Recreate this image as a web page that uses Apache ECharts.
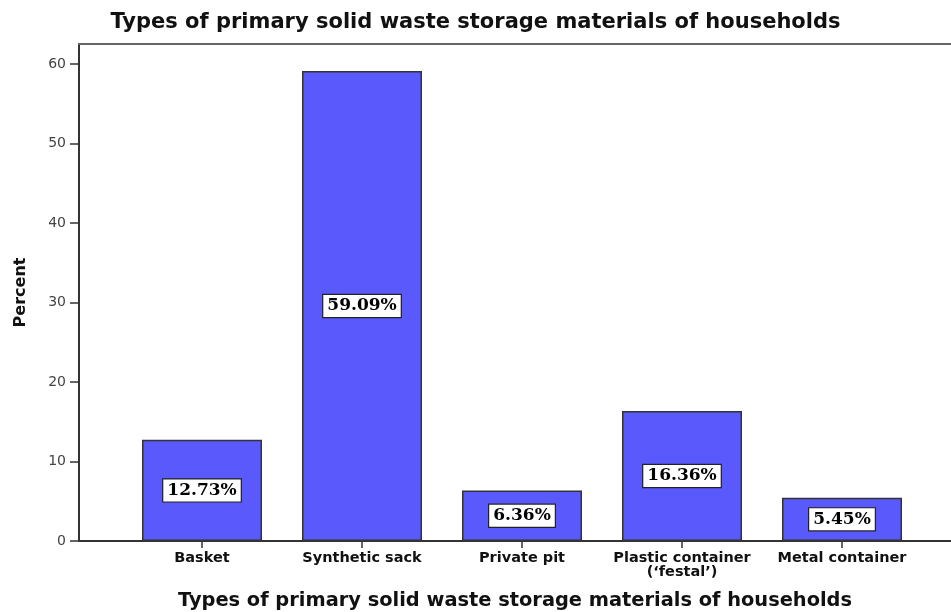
<!DOCTYPE html>
<html>
<head>
<meta charset="utf-8">
<script src="https://cdn.jsdelivr.net/npm/echarts@6/dist/echarts.min.js"></script>
<style>
html,body{margin:0;padding:0;background:#fff;}
#chart{width:951px;height:612px;}
</style>
</head>
<body>
<div id="chart"></div>
<script>
const categories = ['Basket', 'Synthetic sack', 'Private pit', 'Plastic container\n(\u2018festal\u2019)', 'Metal container'];
const percentValues = [12.73, 59.09, 6.36, 16.36, 5.45];
const yTicks = [0, 10, 20, 30, 40, 50, 60];

const chart = echarts.init(document.getElementById('chart'));
const yMax = 62.5;
chart.setOption({
  animation: false,
  backgroundColor: '#ffffff',
  title: {
    text: 'Types of primary solid waste storage materials of households',
    left: 'center',
    top: 7,
    textStyle: {fontFamily: 'DejaVu Sans', fontSize: 21, fontWeight: 'bold', color: '#111'}
  },
  grid: [
    {left: 79, right: 0, top: 44, bottom: 71, containLabel: false, outerBoundsMode: 'none'},
    {left: 122, right: 29, top: 44, bottom: 71, containLabel: false, outerBoundsMode: 'none'}
  ],
  xAxis: [
    {
      gridIndex: 0, type: 'value', min: 0, max: 1, position: 'bottom',
      axisLine: {show: true, onZero: false, lineStyle: {color: '#333', width: 2}},
      axisTick: {show: false}, axisLabel: {show: false}, splitLine: {show: false},
      name: 'Types of primary solid waste storage materials of households',
      nameLocation: 'middle', nameGap: 50,
      nameTextStyle: {fontFamily: 'DejaVu Sans', fontSize: 19.4, fontWeight: 'bold', color: '#111'}
    },
    {
      gridIndex: 1, type: 'category', data: categories,
      axisLine: {show: false},
      axisTick: {show: true, alignWithLabel: true, length: 7, lineStyle: {color: '#333', width: 1.5}},
      axisLabel: {fontFamily: 'DejaVu Sans', fontSize: 14.5, fontWeight: 'bold', color: '#111', margin: 10, lineHeight: 14, interval: 0}
    },
    {
      gridIndex: 0, type: 'value', min: 0, max: 1, position: 'top',
      axisLine: {show: true, onZero: false, lineStyle: {color: '#666', width: 2}},
      axisTick: {show: false}, axisLabel: {show: false}, splitLine: {show: false}
    }
  ],
  yAxis: [
    {
      gridIndex: 0, type: 'value', min: 0, max: yMax, interval: 10,
      axisLine: {show: true, lineStyle: {color: '#333', width: 2}},
      axisTick: {show: true, length: 9, lineStyle: {color: '#333', width: 1.5}},
      axisLabel: {
        fontFamily: 'DejaVu Sans', fontSize: 14, color: '#444', margin: 13, showMaxLabel: false,
        formatter: v => (yTicks.indexOf(v) >= 0 ? String(v) : '')
      },
      splitLine: {show: false},
      name: 'Percent', nameLocation: 'middle', nameGap: 50,
      nameTextStyle: {fontFamily: 'DejaVu Sans', fontSize: 16, fontWeight: 'bold', color: '#111'}
    },
    {
      gridIndex: 1, type: 'value', min: 0, max: yMax, show: false
    }
  ],
  series: [{
    type: 'bar',
    xAxisIndex: 1, yAxisIndex: 1,
    data: percentValues,
    barWidth: '75%',
    itemStyle: {color: '#5a5afc', borderColor: '#333', borderWidth: 1.5},
    label: {
      show: true, position: 'inside',
      formatter: p => p.value.toFixed(2) + '%',
      fontFamily: 'DejaVu Serif', fontSize: 17, fontWeight: 'bold', color: '#000',
      backgroundColor: '#fff', borderColor: '#222', borderWidth: 1.2, padding: [3, 4, 2, 4]
    }
  }]
});
</script>
</body>
</html>
